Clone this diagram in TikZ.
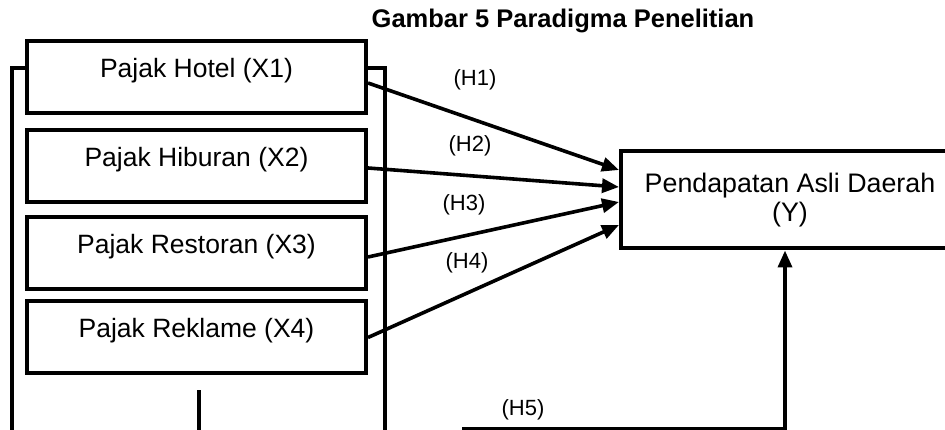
\documentclass[tikz,border=0pt]{standalone}
\usepackage{fontspec}
\setmainfont{Liberation Sans}
\usetikzlibrary{arrows.meta}
\begin{document}
\begin{tikzpicture}[x=1pt,y=-1pt,
  varbox/.style={draw,line width=4pt,minimum width=339pt,minimum height=72pt,
    inner sep=0pt,font=\fontsize{26.5}{30}\selectfont,text height=20pt,text depth=19pt},
  ybox/.style={draw,line width=4pt,minimum width=338pt,minimum height=97pt,
    inner sep=0pt,align=center,font=\fontsize{26.8}{29}\selectfont},
  link/.style={line width=3.6pt,-{Triangle[length=17pt,width=14pt]}},
  frame/.style={line width=3.6pt},
  hlabel/.style={font=\fontsize{22}{26}\selectfont}]
\clip (0,0) rectangle (945,430);
\fill[white] (0,0) rectangle (945,430);

% title
\node[font=\bfseries\fontsize{25.5}{28}\selectfont] (title) at (563,21) {Gambar 5 Paradigma Penelitian};

% independent variables
\node[varbox] (x1) at (196.5,77.5) {Pajak Hotel (X1)};
\node[varbox] (x2) at (196.5,166.5) {Pajak Hiburan (X2)};
\node[varbox] (x3) at (196.5,253.5) {Pajak Restoran (X3)};
\node[varbox] (x4) at (196.5,337) {Pajak Reklame (X4)};

% dependent variable (its right side runs past the page edge)
\node[ybox] (y) at (790,200) {Pendapatan Asli Daerah\\(Y)};

% bracket enclosing the four variables
\coordinate (bl) at (12,440);
\coordinate (br) at (385,440);
\coordinate (stemtop) at (199,390);
\coordinate (stembot) at (199,440);
\draw[frame] ([yshift=9.5pt]x1.west) -| (bl);
\draw[frame] ([yshift=9.5pt]x1.east) -| (br);
\draw[frame] (stemtop) -- (stembot);

% partial hypotheses
\draw[link] ([yshift=-5.5pt]x1.east) -- ([yshift=30pt]y.west);
\draw[link] ([yshift=-1.5pt]x2.east) -- ([yshift=13pt]y.west);
\draw[link] ([yshift=-3.5pt]x3.east) -- ([yshift=-2pt]y.west);
\draw[link] ([yshift=-0.5pt]x4.east) -- ([yshift=-25pt]y.west);

% simultaneous hypothesis
\coordinate (h5start) at (462,429);
\draw[link] (h5start) -| ([xshift=-5pt]y.south);

% hypothesis labels
\node[hlabel] (h1) at (475,80) {(H1)};
\node[hlabel] (h2) at (470,146) {(H2)};
\node[hlabel] (h3) at (464,205) {(H3)};
\node[hlabel] (h4) at (467,263) {(H4)};
\node[hlabel] (h5) at (523,410) {(H5)};
\end{tikzpicture}
\end{document}
